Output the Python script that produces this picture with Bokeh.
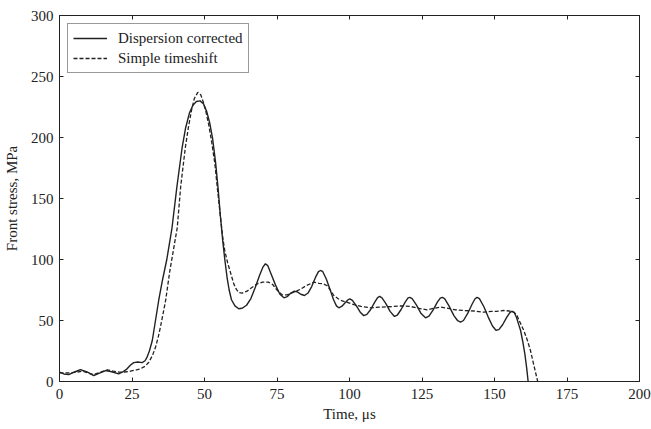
from bokeh.plotting import figure
from bokeh.models import LinearAxis, Range1d, FixedTicker, Legend, LegendItem
from bokeh.embed import file_html
from bokeh.resources import INLINE

# Dispersion corrected (solid)
t_disp = [0, 1.5, 3.2, 5.2, 7.2, 9.5, 11.8, 14, 15.9, 18, 20.4, 21.8, 23.3, 24.5, 25.6, 27, 28.5,
          29.5, 30.2, 31, 32, 33.1, 34.2, 35.5, 37, 38.8, 40.5, 42.3, 43.5, 44.8, 46, 47.2, 48.5,
          49.7, 50.8, 51.8, 52.8, 53.8, 54.7, 55.5, 56.3, 57, 57.8, 58.5, 59.3, 60.5, 61.8, 63,
          64.5, 66, 67.5, 69, 70.2, 71, 71.8, 73, 74.5, 76, 77.4, 78.5, 79.8, 81, 82, 83.2, 84.5,
          85.7, 87, 88.3, 89.3, 90, 90.8, 92, 93.2, 94.5, 95.5, 96.3, 97.3, 98.5, 99.5, 100.1,
          101, 102.5, 103.8, 104.9, 106, 107.3, 108.7, 109.7, 110.4, 111.2, 112.5, 114, 115.5,
          116.5, 117.8, 119.3, 120.2, 120.8, 121.6, 123, 124.6, 126.2, 127.4, 128.8, 130.3,
          131.3, 132, 132.8, 134.3, 136, 137.3, 138.3, 139.3, 140.8, 142.3, 143.3, 144, 144.8,
          146.3, 147.8, 149.3, 150.5, 151.5, 152.8, 154.2, 155.3, 156.1, 156.8, 157.6, 158.3,
          159, 159.8, 160.5, 161.1, 161.6]
s_disp = [7.7, 6.2, 5.7, 7.8, 9.8, 7.8, 4.9, 7, 9, 8, 6.3, 7.8, 10.4, 13.5, 15.5, 16, 15.5,
          17, 20, 25, 33.6, 50, 66.4, 83, 100, 126, 160, 192, 208, 220, 226.5, 229.5, 230,
          227.5, 221, 212, 199, 180, 158, 135, 115, 100, 85, 75, 67, 62, 59.6, 60,
          62.5, 68, 77, 87, 94, 96.5, 95, 88, 79, 71.5, 68.6, 69.5, 72.5, 74, 73.5, 71.5, 70.5,
          72.5, 78, 85.5, 90, 91, 90, 84, 76, 67, 62, 60.4, 61.5, 64.5, 67, 67.8,
          66.5, 61.5, 56.5, 54, 55, 59, 65, 68.8, 69.7, 68.5, 64, 57.5, 53.3,
          54.5, 59, 65.5, 68.5, 69, 68, 63, 56, 52.2, 53.5, 58.5, 65,
          68.3, 69, 68, 62, 54, 49.8, 48.6, 50, 56, 63.5, 67.8, 69, 68,
          61.5, 53, 45.5, 42, 42.5, 46.5, 52.5, 56.5, 57.6, 56.5, 52.5, 47,
          41.8, 32, 22, 11, 0]

# Simple timeshift (dashed)
t_shift = [0, 3.2, 5.5, 7.8, 9.8, 11.8, 14, 16.5, 18.5, 20.4, 22.5, 24.5, 26.5, 27.9, 29.5,
           30.8, 32, 33.1, 34, 34.8, 36.6, 38, 40.6, 41.8, 43.4, 44.5, 45.5, 46.5, 47.7, 48.7,
           49.6, 50.5, 51.5, 52.5, 53.6, 54.5, 55.5, 56.3, 57, 58, 59, 60.1, 61, 61.8, 63,
           64.7, 66, 68.2, 70, 72, 73.5, 75, 76.8, 78.5, 81, 83, 85, 87.7, 89.5, 91, 92.3,
           93.5, 94.6, 96, 97.5, 99, 101.5, 104, 107.2, 111, 115.3, 118, 121, 124, 126.8, 129,
           131.4, 134, 136.5, 139.4, 143, 146.3, 149, 151, 153.2, 155, 156.7, 157.7, 158.5,
           159.3, 160.1, 161.3, 162.4, 163.6, 164.9]
s_shift = [7, 7, 7.5, 8.5, 7, 5.7, 7.5, 9.5, 8.5, 7.7, 7.8, 8.5, 9.5, 10.4, 12.5,
           15.8, 21, 28, 36, 44.5, 66.4, 90, 126, 160, 192, 209, 222, 232, 237, 235,
           229, 221, 210, 196, 178, 157, 135, 118, 107, 97, 89, 80, 75.5, 73, 72.5,
           74, 76.5, 80, 81.5, 81.5, 79.5, 75, 71, 71, 73.5, 75.5, 78.5, 81.4, 80.5, 80, 78.5,
           74.5, 70.5, 68, 66, 65, 63, 61.5, 60.4, 61, 61.5, 62, 61.5, 60, 58.7, 60,
           61, 60, 58.8, 58.2, 57.8, 56.8, 57.5, 57.6, 58.2, 57.8, 56.8, 54.5, 50,
           46, 41.8, 34, 25.4, 13, 0]

x_ticks = [0, 25, 50, 75, 100, 125, 150, 175, 200]
y_ticks = [0, 50, 100, 150, 200, 250, 300]

FONT = "Liberation Serif"
INK = "#222222"
FS = "15px"

p = figure(width=651, height=429, output_backend="svg", toolbar_location=None,
           x_range=Range1d(0, 200), y_range=Range1d(0, 300),
           min_border_left=59, min_border_right=12, min_border_top=15, min_border_bottom=48)
p.grid.visible = False
p.outline_line_color = INK
p.outline_line_width = 1
p.background_fill_color = "white"
p.border_fill_color = "white"

r1 = p.line(t_disp, s_disp, line_color=INK, line_width=1.4)
r2 = p.line(t_shift, s_shift, line_color=INK, line_width=1.3, line_dash="4 2")

xa = p.xaxis[0]
ya = p.yaxis[0]
xa.ticker = FixedTicker(ticks=x_ticks)
ya.ticker = FixedTicker(ticks=y_ticks)
for ax in (xa, ya):
    ax.major_tick_in = 4
    ax.major_tick_out = 0
    ax.minor_tick_line_color = None
    ax.axis_line_color = INK
    ax.major_tick_line_color = INK
    ax.major_label_text_font = FONT
    ax.major_label_text_font_size = FS
    ax.major_label_text_color = INK
    ax.axis_label_text_font = FONT
    ax.axis_label_text_font_size = FS
    ax.axis_label_text_font_style = "normal"
    ax.axis_label_text_color = INK
xa.axis_label = "Time, μs"
ya.axis_label = "Front stress, MPa"
xa.major_label_standoff = 7
xa.axis_label_standoff = 4
ya.major_label_standoff = 6
ya.axis_label_standoff = 8

top = LinearAxis(ticker=FixedTicker(ticks=x_ticks), major_label_text_color=None,
                 major_label_text_font_size="1px",
                 major_tick_in=4, major_tick_out=0, minor_tick_line_color=None,
                 axis_line_color=INK, major_tick_line_color=INK, major_label_standoff=0)
right = LinearAxis(ticker=FixedTicker(ticks=y_ticks), major_label_text_color=None,
                   major_label_text_font_size="1px",
                   major_tick_in=4, major_tick_out=0, minor_tick_line_color=None,
                   axis_line_color=INK, major_tick_line_color=INK, major_label_standoff=0)
p.add_layout(top, "above")
p.add_layout(right, "right")

legend = Legend(items=[LegendItem(label="Dispersion corrected", renderers=[r1]),
                       LegendItem(label="Simple timeshift", renderers=[r2])],
                location="top_left")
legend.margin = 8
legend.padding = 5
legend.spacing = 2
legend.label_height = 18
legend.glyph_height = 18
legend.glyph_width = 34
legend.label_standoff = 11
legend.label_text_font = FONT
legend.label_text_font_size = FS
legend.label_text_color = INK
legend.border_line_color = "#333333"
legend.border_line_width = 1
legend.background_fill_alpha = 1
p.add_layout(legend, "center")

open("out.html", "w").write(file_html(p, INLINE))
